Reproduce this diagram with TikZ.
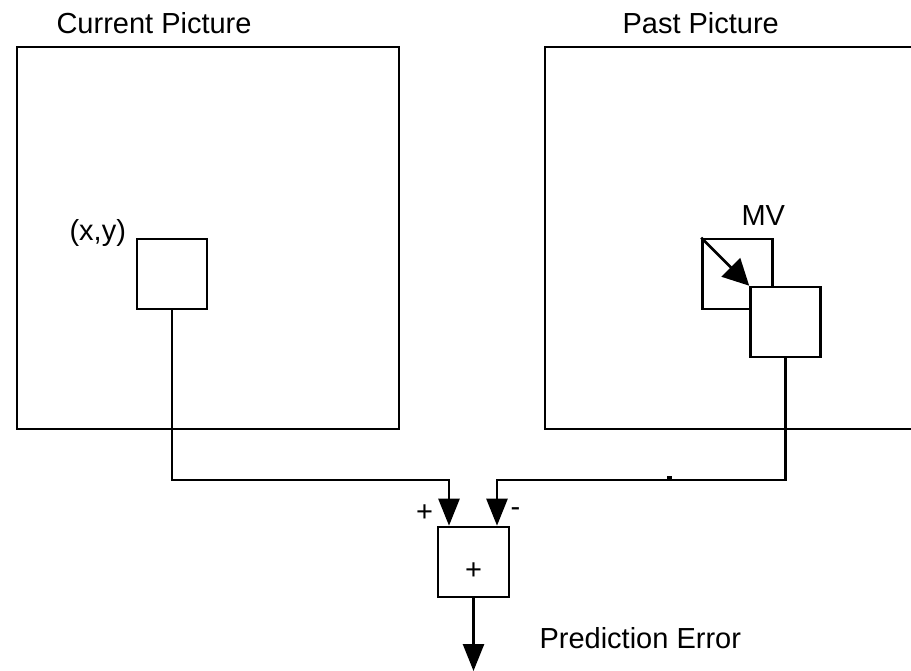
\documentclass[tikz,border=0pt]{standalone}
\usepackage{fontspec}
\setmainfont{Liberation Sans}
\usetikzlibrary{arrows.meta}

\begin{document}
\begin{tikzpicture}[x=1pt, y=-1pt,
		every node/.style={font=\fontsize{29}{35}\selectfont},
		box/.style={draw, line width=2.6pt, inner sep=0pt},
		wire/.style={line width=2.6pt},
		tip/.style={-{Triangle[length=27pt, width=21pt]}}]
			\useasboundingbox (0,0) rectangle (911,671);
			
			\node[anchor=base west] (curtitle) at (53,34) {Current Picture};
			\node[anchor=base west] (pasttitle) at (619,34) {Past Picture};
			
			\node[box, minimum width=382pt, minimum height=382pt] (cur) at (208,238) {};
			\node[box, minimum width=385pt, minimum height=382pt] (past) at (737.5,238) {};
			
			\node[box, minimum size=70pt] (cb) at (172,274) {};
			\node[anchor=base west] (xy) at (66,241) {(x,y)};
			
			\node[box, minimum size=70pt] (mv) at (737.5,274) {};
			\node[box, fill=white, minimum size=70pt] (sb) at (785.5,322) {};
			\node[anchor=base west] (mvlabel) at (738,226) {MV};
			\draw[wire, -{Triangle[length=26pt, width=26pt]}] (mv.north west) -- (sb.north west);
			
			\node[box, minimum width=71pt, minimum height=70pt, text height=34pt, text depth=0pt] (sum) at (473.5,562) {+};
			\coordinate (inp) at ([xshift=-24.5pt]sum.north);
			\coordinate (inm) at ([xshift=23.5pt]sum.north);
			\coordinate (bus) at (0,480);
			\coordinate (out) at (473.5,671);
			\node[anchor=base] (plus) at (424.5,521) {+};
			\node[anchor=base] (minus) at (515.5,516) {-};
			
			\draw[wire, tip] (cb.south) |- (bus -| inp) -- (inp);
			\draw[wire, tip] (sb.south) |- (bus -| inm) -- (inm);
			\draw[wire, tip] (sum.south) -- (out);
			\fill (667,476) rectangle (672,479);
			
			\node[anchor=base west] (err) at (536,648) {Prediction Error};
		\end{tikzpicture}
\end{document}
